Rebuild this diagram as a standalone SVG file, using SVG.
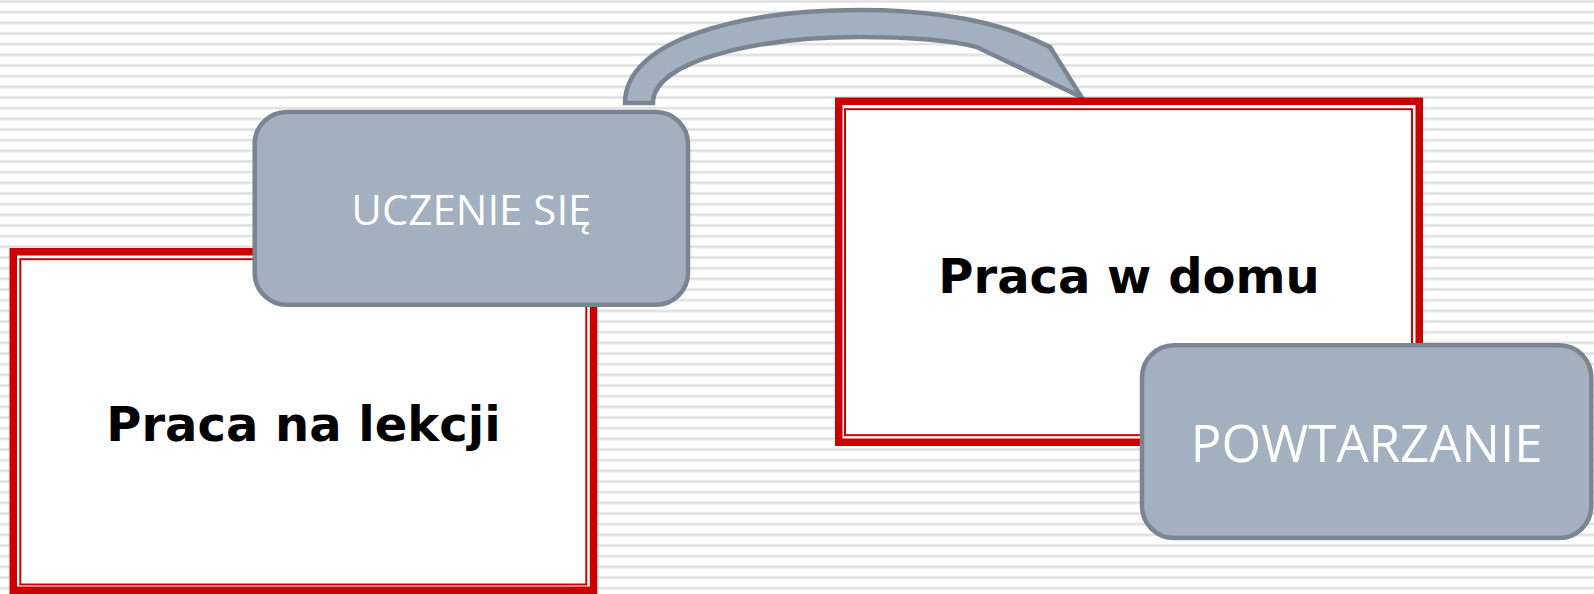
<svg xmlns="http://www.w3.org/2000/svg" width="1594" height="594" viewBox="0 0 1594 594">
<defs>
<pattern id="stripes" patternUnits="userSpaceOnUse" x="0" y="0" width="1594" height="10.667">
<rect x="0" y="0" width="1594" height="3" fill="#efefef"/>
<rect x="0" y="0.5" width="1594" height="2" fill="#e0e0e0"/>
</pattern>
<style>
.frame-outer{fill:#ffffff;stroke:#cc0000;stroke-width:7.5}
.frame-inner{fill:none;stroke:#cc0000;stroke-width:2}
.card{fill:#a2b0bf;stroke:#7b8591;stroke-width:4.5}
.big{font-family:"DejaVu Sans","Liberation Sans",sans-serif;font-weight:bold;font-size:48px;fill:#000000;text-anchor:middle}
.lab{font-family:"Open Sans","Noto Sans",sans-serif;fill:#ffffff;text-anchor:middle}
</style>
</defs>
<rect x="0" y="0" width="1594" height="594" fill="#ffffff"/>
<rect x="0" y="0" width="1594" height="594" fill="url(#stripes)"/>

<g id="connectors">
<path class="card" d="M625,103 C625,40 740,10 860,10 C950,10 1010,26 1050,47 L1081.7,97.3 L976.7,47 C950,40 910,37 860,37 C760,37 653,60 653,103 Z"/>
</g>

<g id="node-praca-na-lekcji">
<rect class="frame-outer" x="13.25" y="251.75" width="580.3" height="338.5"/>
<rect class="frame-inner" x="20.3" y="259.2" width="566" height="325.3"/>
<text class="big" x="303.4" y="441">Praca na lekcji</text>
</g>

<g id="node-praca-w-domu">
<rect class="frame-outer" x="838.75" y="101.25" width="580.5" height="341"/>
<rect class="frame-inner" x="845" y="109.2" width="567" height="326"/>
<text class="big" x="1129" y="292.5">Praca w domu</text>
</g>

<g id="node-uczenie-sie">
<rect class="card" x="254.7" y="112" width="433.3" height="192.7" rx="32" ry="32"/>
<text class="lab" x="471.4" y="225" font-size="42">UCZENIE SIĘ</text>
</g>

<g id="node-powtarzanie">
<rect class="card" x="1142" y="345.3" width="449.3" height="192.7" rx="32" ry="32"/>
<text class="lab" x="1366.7" y="461.7" font-size="51">POWTARZANIE</text>
</g>
</svg>
